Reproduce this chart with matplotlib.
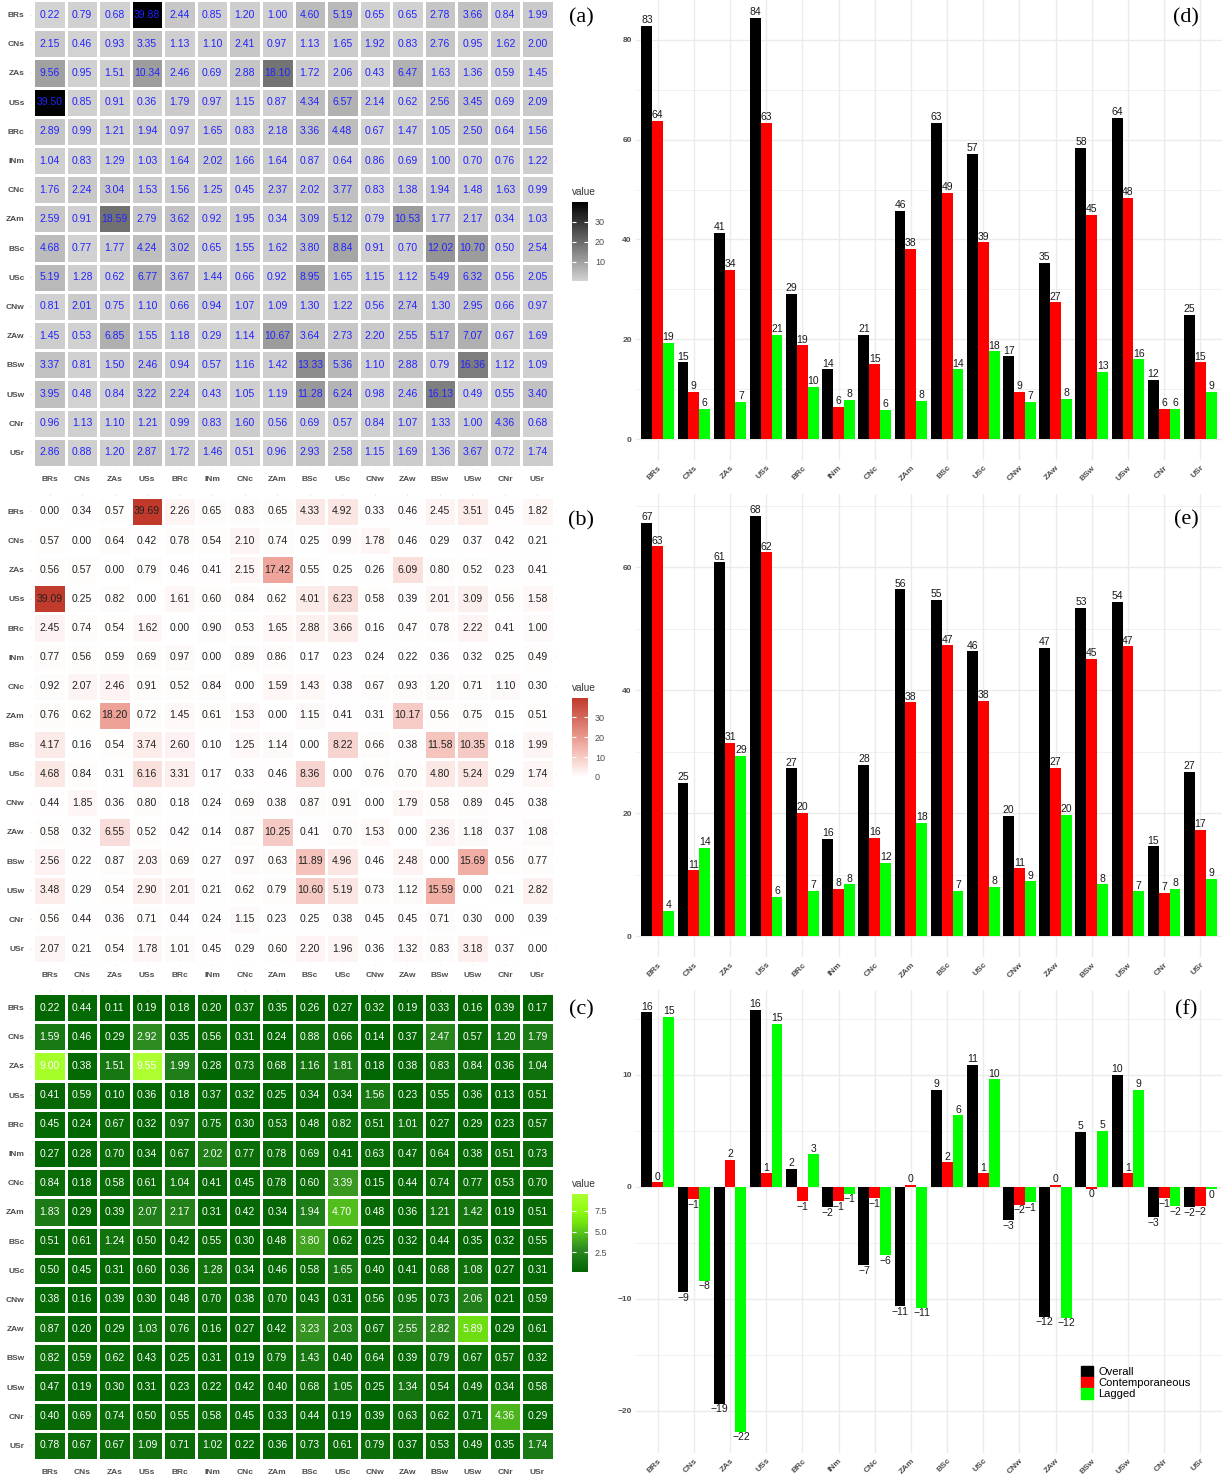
import numpy as np
import matplotlib
matplotlib.use("Agg")
import matplotlib.pyplot as plt
from matplotlib.colors import LinearSegmentedColormap
from matplotlib.patches import Patch
from matplotlib.ticker import MultipleLocator

plt.rcParams['font.family'] = ['Liberation Sans', 'DejaVu Sans']

labels = ["BRs", "CNs", "ZAs", "USs", "BRc", "INm", "CNc", "ZAm",
          "BSc", "USc", "CNw", "ZAw", "BSw", "USw", "CNr", "USr"]

# (a) overall spillover table
spill_overall = [
    [0.22, 0.79, 0.68, 39.88, 2.44, 0.85, 1.20, 1.00, 4.60, 5.19, 0.65, 0.65, 2.78, 3.66, 0.84, 1.99],
    [2.15, 0.46, 0.93, 3.35, 1.13, 1.10, 2.41, 0.97, 1.13, 1.65, 1.92, 0.83, 2.76, 0.95, 1.62, 2.00],
    [9.56, 0.95, 1.51, 10.34, 2.46, 0.69, 2.88, 18.10, 1.72, 2.06, 0.43, 6.47, 1.63, 1.36, 0.59, 1.45],
    [39.50, 0.85, 0.91, 0.36, 1.79, 0.97, 1.15, 0.87, 4.34, 6.57, 2.14, 0.62, 2.56, 3.45, 0.69, 2.09],
    [2.89, 0.99, 1.21, 1.94, 0.97, 1.65, 0.83, 2.18, 3.36, 4.48, 0.67, 1.47, 1.05, 2.50, 0.64, 1.56],
    [1.04, 0.83, 1.29, 1.03, 1.64, 2.02, 1.66, 1.64, 0.87, 0.64, 0.86, 0.69, 1.00, 0.70, 0.76, 1.22],
    [1.76, 2.24, 3.04, 1.53, 1.56, 1.25, 0.45, 2.37, 2.02, 3.77, 0.83, 1.38, 1.94, 1.48, 1.63, 0.99],
    [2.59, 0.91, 18.59, 2.79, 3.62, 0.92, 1.95, 0.34, 3.09, 5.12, 0.79, 10.53, 1.77, 2.17, 0.34, 1.03],
    [4.68, 0.77, 1.77, 4.24, 3.02, 0.65, 1.55, 1.62, 3.80, 8.84, 0.91, 0.70, 12.02, 10.70, 0.50, 2.54],
    [5.19, 1.28, 0.62, 6.77, 3.67, 1.44, 0.66, 0.92, 8.95, 1.65, 1.15, 1.12, 5.49, 6.32, 0.56, 2.05],
    [0.81, 2.01, 0.75, 1.10, 0.66, 0.94, 1.07, 1.09, 1.30, 1.22, 0.56, 2.74, 1.30, 2.95, 0.66, 0.97],
    [1.45, 0.53, 6.85, 1.55, 1.18, 0.29, 1.14, 10.67, 3.64, 2.73, 2.20, 2.55, 5.17, 7.07, 0.67, 1.69],
    [3.37, 0.81, 1.50, 2.46, 0.94, 0.57, 1.16, 1.42, 13.33, 5.36, 1.10, 2.88, 0.79, 16.36, 1.12, 1.09],
    [3.95, 0.48, 0.84, 3.22, 2.24, 0.43, 1.05, 1.19, 11.28, 6.24, 0.98, 2.46, 16.13, 0.49, 0.55, 3.40],
    [0.96, 1.13, 1.10, 1.21, 0.99, 0.83, 1.60, 0.56, 0.69, 0.57, 0.84, 1.07, 1.33, 1.00, 4.36, 0.68],
    [2.86, 0.88, 1.20, 2.87, 1.72, 1.46, 0.51, 0.96, 2.93, 2.58, 1.15, 1.69, 1.36, 3.67, 0.72, 1.74],
]

# (b) contemporaneous
spill_contemp = [
    [0.00, 0.34, 0.57, 39.69, 2.26, 0.65, 0.83, 0.65, 4.33, 4.92, 0.33, 0.46, 2.45, 3.51, 0.45, 1.82],
    [0.57, 0.00, 0.64, 0.42, 0.78, 0.54, 2.10, 0.74, 0.25, 0.99, 1.78, 0.46, 0.29, 0.37, 0.42, 0.21],
    [0.56, 0.57, 0.00, 0.79, 0.46, 0.41, 2.15, 17.42, 0.55, 0.25, 0.26, 6.09, 0.80, 0.52, 0.23, 0.41],
    [39.09, 0.25, 0.82, 0.00, 1.61, 0.60, 0.84, 0.62, 4.01, 6.23, 0.58, 0.39, 2.01, 3.09, 0.56, 1.58],
    [2.45, 0.74, 0.54, 1.62, 0.00, 0.90, 0.53, 1.65, 2.88, 3.66, 0.16, 0.47, 0.78, 2.22, 0.41, 1.00],
    [0.77, 0.56, 0.59, 0.69, 0.97, 0.00, 0.89, 0.86, 0.17, 0.23, 0.24, 0.22, 0.36, 0.32, 0.25, 0.49],
    [0.92, 2.07, 2.46, 0.91, 0.52, 0.84, 0.00, 1.59, 1.43, 0.38, 0.67, 0.93, 1.20, 0.71, 1.10, 0.30],
    [0.76, 0.62, 18.20, 0.72, 1.45, 0.61, 1.53, 0.00, 1.15, 0.41, 0.31, 10.17, 0.56, 0.75, 0.15, 0.51],
    [4.17, 0.16, 0.54, 3.74, 2.60, 0.10, 1.25, 1.14, 0.00, 8.22, 0.66, 0.38, 11.58, 10.35, 0.18, 1.99],
    [4.68, 0.84, 0.31, 6.16, 3.31, 0.17, 0.33, 0.46, 8.36, 0.00, 0.76, 0.70, 4.80, 5.24, 0.29, 1.74],
    [0.44, 1.85, 0.36, 0.80, 0.18, 0.24, 0.69, 0.38, 0.87, 0.91, 0.00, 1.79, 0.58, 0.89, 0.45, 0.38],
    [0.58, 0.32, 6.55, 0.52, 0.42, 0.14, 0.87, 10.25, 0.41, 0.70, 1.53, 0.00, 2.36, 1.18, 0.37, 1.08],
    [2.56, 0.22, 0.87, 2.03, 0.69, 0.27, 0.97, 0.63, 11.89, 4.96, 0.46, 2.48, 0.00, 15.69, 0.56, 0.77],
    [3.48, 0.29, 0.54, 2.90, 2.01, 0.21, 0.62, 0.79, 10.60, 5.19, 0.73, 1.12, 15.59, 0.00, 0.21, 2.82],
    [0.56, 0.44, 0.36, 0.71, 0.44, 0.24, 1.15, 0.23, 0.25, 0.38, 0.45, 0.45, 0.71, 0.30, 0.00, 0.39],
    [2.07, 0.21, 0.54, 1.78, 1.01, 0.45, 0.29, 0.60, 2.20, 1.96, 0.36, 1.32, 0.83, 3.18, 0.37, 0.00],
]

# (c) lagged
spill_lagged = [
    [0.22, 0.44, 0.11, 0.19, 0.18, 0.20, 0.37, 0.35, 0.26, 0.27, 0.32, 0.19, 0.33, 0.16, 0.39, 0.17],
    [1.59, 0.46, 0.29, 2.92, 0.35, 0.56, 0.31, 0.24, 0.88, 0.66, 0.14, 0.37, 2.47, 0.57, 1.20, 1.79],
    [9.00, 0.38, 1.51, 9.55, 1.99, 0.28, 0.73, 0.68, 1.16, 1.81, 0.18, 0.38, 0.83, 0.84, 0.36, 1.04],
    [0.41, 0.59, 0.10, 0.36, 0.18, 0.37, 0.32, 0.25, 0.34, 0.34, 1.56, 0.23, 0.55, 0.36, 0.13, 0.51],
    [0.45, 0.24, 0.67, 0.32, 0.97, 0.75, 0.30, 0.53, 0.48, 0.82, 0.51, 1.01, 0.27, 0.29, 0.23, 0.57],
    [0.27, 0.28, 0.70, 0.34, 0.67, 2.02, 0.77, 0.78, 0.69, 0.41, 0.63, 0.47, 0.64, 0.38, 0.51, 0.73],
    [0.84, 0.18, 0.58, 0.61, 1.04, 0.41, 0.45, 0.78, 0.60, 3.39, 0.15, 0.44, 0.74, 0.77, 0.53, 0.70],
    [1.83, 0.29, 0.39, 2.07, 2.17, 0.31, 0.42, 0.34, 1.94, 4.70, 0.48, 0.36, 1.21, 1.42, 0.19, 0.51],
    [0.51, 0.61, 1.24, 0.50, 0.42, 0.55, 0.30, 0.48, 3.80, 0.62, 0.25, 0.32, 0.44, 0.35, 0.32, 0.55],
    [0.50, 0.45, 0.31, 0.60, 0.36, 1.28, 0.34, 0.46, 0.58, 1.65, 0.40, 0.41, 0.68, 1.08, 0.27, 0.31],
    [0.38, 0.16, 0.39, 0.30, 0.48, 0.70, 0.38, 0.70, 0.43, 0.31, 0.56, 0.95, 0.73, 2.06, 0.21, 0.59],
    [0.87, 0.20, 0.29, 1.03, 0.76, 0.16, 0.27, 0.42, 3.23, 2.03, 0.67, 2.55, 2.82, 5.89, 0.29, 0.61],
    [0.82, 0.59, 0.62, 0.43, 0.25, 0.31, 0.19, 0.79, 1.43, 0.40, 0.64, 0.39, 0.79, 0.67, 0.57, 0.32],
    [0.47, 0.19, 0.30, 0.31, 0.23, 0.22, 0.42, 0.40, 0.68, 1.05, 0.25, 1.34, 0.54, 0.49, 0.34, 0.58],
    [0.40, 0.69, 0.74, 0.50, 0.55, 0.58, 0.45, 0.33, 0.44, 0.19, 0.39, 0.63, 0.62, 0.71, 4.36, 0.29],
    [0.78, 0.67, 0.67, 1.09, 0.71, 1.02, 0.22, 0.36, 0.73, 0.61, 0.79, 0.37, 0.53, 0.49, 0.35, 1.74],
]

# (d) TO others
to_overall = [82.8, 15.4, 41.3, 84.4, 29.1, 14.0, 20.9, 45.7, 63.4, 57.2, 16.6, 35.3, 58.4, 64.4, 11.8, 24.9]
to_contemp = [63.8, 9.4, 33.9, 63.4, 18.8, 6.4, 15.0, 38.1, 49.4, 39.4, 9.4, 27.4, 44.9, 48.3, 6.0, 15.4]
to_lagged = [19.3, 6.0, 7.4, 20.9, 10.4, 7.8, 5.8, 7.6, 14.0, 17.6, 7.4, 8.0, 13.4, 16.0, 6.0, 9.4]

# (e) FROM others
from_overall = [67.2, 24.9, 60.8, 68.4, 27.3, 15.8, 27.9, 56.4, 54.7, 46.3, 19.6, 46.9, 53.4, 54.4, 14.6, 26.7]
from_contemp = [63.4, 10.7, 31.4, 62.4, 20.1, 7.7, 16.0, 38.0, 47.3, 38.3, 11.0, 27.4, 45.1, 47.1, 7.0, 17.3]
from_lagged = [4.1, 14.4, 29.3, 6.4, 7.4, 8.4, 11.9, 18.4, 7.4, 8.0, 8.9, 19.7, 8.4, 7.3, 7.7, 9.3]

# (f) NET
net_overall = [15.6, -9.4, -19.4, 15.8, 1.6, -1.8, -7.0, -10.7, 8.7, 10.9, -3.0, -11.6, 4.9, 10.0, -2.7, -1.8]
net_contemp = [0.4, -1.1, 2.4, 1.2, -1.3, -1.3, -1.0, 0.15, 2.2, 1.2, -1.6, 0.15, -0.15, 1.2, -1.0, -1.7]
net_lagged = [15.2, -8.4, -21.9, 14.6, 2.9, -0.6, -6.1, -10.8, 6.4, 9.6, -1.4, -11.7, 5.0, 8.7, -1.7, -0.2]

W, H = 1223, 1476
fig = plt.figure(figsize=(W / 100, H / 100), dpi=100)

GRID = '#EBEBEB'
AXTXT = '#4D4D4D'


def px_axes(left, top, right, bottom):
    return fig.add_axes([left / W, 1 - bottom / H, (right - left) / W, (bottom - top) / H])


def heatmap(box, data, cmap, vmin, vmax, txtcol, cbox, ticks, ticklabels, panel_y, letter):
    ax = px_axes(*box)
    data = np.array(data)
    n = len(labels)
    for k in range(n):
        ax.axvline(k, color=GRID, lw=0.8, zorder=0)
        ax.axhline(k, color=GRID, lw=0.8, zorder=0)
    mesh = ax.pcolormesh(np.arange(n + 1) - 0.5, np.arange(n + 1) - 0.5, data,
                         cmap=cmap, vmin=vmin, vmax=vmax,
                         edgecolors='white', linewidth=1.0, zorder=1)
    for i in range(n):
        for j in range(n):
            ax.text(j, i, f"{data[i, j]:.2f}", ha='center', va='center',
                    color=txtcol, fontsize=7.5, zorder=2)
    ax.set_xlim(-0.6, n - 0.4)
    ax.set_ylim(n - 0.4, -0.6)
    ax.set_xticks(range(n))
    ax.set_xticklabels(labels)
    ax.set_yticks(range(n))
    ax.set_yticklabels(labels)
    ax.tick_params(length=0, labelsize=6, labelcolor=AXTXT, pad=4)
    for t in ax.get_xticklabels() + ax.get_yticklabels():
        t.set_fontweight('bold')
    for s in ax.spines.values():
        s.set_visible(False)

    # colour bar
    cax = px_axes(*cbox)
    cb = fig.colorbar(mesh, cax=cax)
    cb.outline.set_visible(False)
    cb.set_ticks(ticks)
    cb.set_ticklabels(ticklabels)
    cax.tick_params(direction='in', length=3, width=0.8, color='white',
                    left=True, right=True, labelsize=6.5, labelcolor=AXTXT, pad=5)
    fig.text(cbox[0] / W, 1 - (cbox[1] - 5) / H, 'value', fontsize=7.2,
             color='#333333', ha='left', va='bottom')
    fig.text(581 / W, 1 - panel_y / H, letter, family='Liberation Serif',
             fontsize=16, ha='center', va='center')


cmap_a = LinearSegmentedColormap.from_list('greys', ['#D3D3D3', '#000000'])
cmap_b = LinearSegmentedColormap.from_list('reds', [(0, '#FFFFFF'), (0.44, '#EFA59B'), (1, '#C0392B')])
cmap_c = LinearSegmentedColormap.from_list('greens', [(0, '#006400'), (0.3, '#2E8B22'), (0.5, '#55C21A'),
                                                      (0.65, '#76E80F'), (0.8, '#8FFA14'), (1, '#ADFF2F')])

heatmap((30, -3, 557, 470), spill_overall, cmap_a, 0.22, 39.88, '#2222FF',
        (572, 202, 588, 281), [10, 20, 30], ['10', '20', '30'], 18, '(a)')
heatmap((30, 494, 557, 966), spill_contemp, cmap_b, 0.0, 39.69, '#222222',
        (572, 698, 588, 777), [0, 10, 20, 30], ['0', '10', '20', '30'], 521, '(b)')
heatmap((30, 990, 557, 1463), spill_lagged, cmap_c, 0.10, 9.55, 'white',
        (572, 1194, 588, 1272), [2.5, 5.0, 7.5], ['2.5', '5.0', '7.5'], 1010, '(c)')


def fmt(v):
    r = int(round(v))
    return ('\u2212' + str(-r)) if r < 0 else str(r)


def bars(box, ylim, major, minor, series, panel_y, letter):
    ax = px_axes(*box)
    x = np.arange(1, len(labels) + 1)
    cols = ['#000000', '#FF0000', '#00FF00']
    for k, vals in enumerate(series):
        xs = x + (k - 1) * 0.3
        ax.bar(xs, vals, width=0.3, color=cols[k], zorder=2)
        for xx, v in zip(xs, vals):
            if v >= 0:
                ax.annotate(fmt(v), (xx, v), xytext=(0, 0.5), textcoords='offset points',
                            ha='center', va='bottom', fontsize=7.5, color='#1A1A1A')
            else:
                ax.annotate(fmt(v), (xx, v), xytext=(0, -0.5), textcoords='offset points',
                            ha='center', va='top', fontsize=7.5, color='#1A1A1A')
    ax.set_xlim(0.4, 16.6)
    ax.set_ylim(*ylim)
    ax.set_xticks(x)
    ax.set_xticklabels(labels, rotation=45, ha='right', rotation_mode='anchor')
    ax.yaxis.set_major_locator(MultipleLocator(major))
    ax.yaxis.set_minor_locator(MultipleLocator(minor))
    ax.grid(which='major', color=GRID, lw=1.0, zorder=0)
    ax.grid(which='minor', axis='y', color=GRID, lw=0.5, zorder=0)
    ax.set_axisbelow(True)
    ax.tick_params(which='both', length=0, labelsize=6, labelcolor=AXTXT, pad=3)
    for t in ax.get_xticklabels() + ax.get_yticklabels():
        t.set_fontweight('bold')
    for s in ax.spines.values():
        s.set_visible(False)
    fig.text(1186 / W, 1 - panel_y / H, letter, family='Liberation Serif',
             fontsize=16, ha='center', va='center')
    return ax


bars((636, 0, 1222, 460), (-4.2, 88.0), 20, 10, [to_overall, to_contemp, to_lagged], 18, '(d)')
bars((636, 494, 1222, 957), (-3.4, 71.9), 20, 10, [from_overall, from_contemp, from_lagged], 520, '(e)')
axf = bars((636, 990, 1222, 1453), (-23.8, 17.6), 10, 5, [net_overall, net_contemp, net_lagged], 1010, '(f)')

handles = [Patch(color='#000000'), Patch(color='#FF0000'), Patch(color='#00FF00')]
axf.legend(handles, ['Overall', 'Contemporaneous', 'Lagged'], loc='upper left',
           bbox_to_anchor=(1081 / W, 1 - 1366 / H), bbox_transform=fig.transFigure,
           frameon=False, fontsize=8, handlelength=1.1, handleheight=1.1,
           handletextpad=0.45, labelspacing=0.0, borderpad=0, borderaxespad=0)

fig.savefig("out.png", dpi=100)
